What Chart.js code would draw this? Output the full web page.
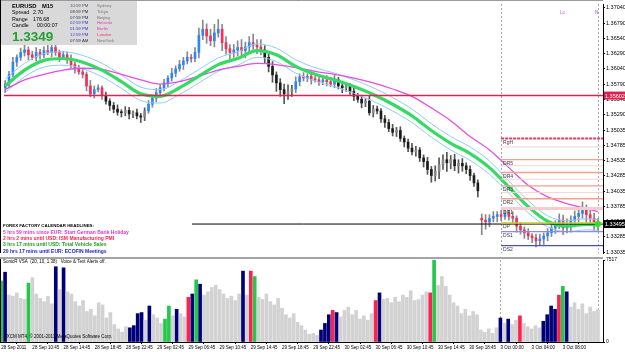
<!DOCTYPE html>
<html>
<head>
<meta charset="utf-8">
<script src="https://cdn.jsdelivr.net/npm/chart.js@4.4.0/dist/chart.umd.min.js"></script>
<style>
  html, body { margin: 0; padding: 0; background: #fff; }
  #wrap { position: relative; width: 625px; height: 352px; overflow: hidden; background: #fff; }
  #price { position: absolute; left: 0; top: 0; }
  #vol { position: absolute; left: 0; top: 257px; }
</style>
</head>
<body>
<div id="wrap">
  <canvas id="price" width="625" height="257"></canvas>
  <canvas id="vol" width="625" height="95"></canvas>
</div>
<script>
Chart.defaults.font.family = "'Liberation Sans', Arial, sans-serif";
const FONT = "'Liberation Sans', Arial, sans-serif";

// ---- EURUSD M15, one entry per candle ----
const closes = [
  1.3579,1.3595,1.3615,1.3623,1.3631,1.3635,1.3627,1.3623,1.3631,1.3627,
  1.3634,1.3631,1.3639,1.3631,1.3624,1.3627,1.3619,1.3611,1.3604,1.3599,
  1.3595,1.3576,1.3563,1.3570,1.3573,1.3560,1.3551,1.3544,1.3538,1.3533,
  1.3532,1.3536,1.3530,1.3532,1.3527,1.3525,1.3535,1.3546,1.3556,1.3565,
  1.3573,1.3581,1.3589,1.3597,1.3604,1.3611,1.3617,1.3623,1.3621,1.3631,
  1.3659,1.3669,1.3658,1.3650,1.3663,1.3669,1.3647,1.3637,1.3631,1.3635,
  1.3639,1.3634,1.3640,1.3647,1.3643,1.3640,1.3635,1.3623,1.3608,1.3594,
  1.3581,1.3570,1.3563,1.3567,1.3571,1.3583,1.3591,1.3589,1.3592,1.3587,
  1.3586,1.3583,1.3586,1.3583,1.3579,1.3586,1.3576,1.3573,1.3576,1.3567,
  1.3559,1.3554,1.3548,1.3551,1.3532,1.3538,1.3535,1.3522,1.3516,1.3506,
  1.3500,1.3503,1.3490,1.3484,1.3474,1.3468,1.3471,1.3458,1.3452,1.3439,
  1.3429,1.3436,1.3447,1.3455,1.3450,1.3455,1.3445,1.3449,1.3445,1.3439,
  1.3429,1.3417,1.3404,1.3356,1.3353,1.3359,1.3362,1.3365,1.3362,1.3367,
  1.3362,1.3359,1.3346,1.3340,1.3335,1.3330,1.3327,1.3322,1.3325,1.3330,
  1.3335,1.3343,1.3349,1.3356,1.3343,1.3346,1.3356,1.3362,1.3367,1.3372,
  1.3365,1.3359,1.3353,1.3349
];
// open = previous close, except where a session starts
const sessionStart = [0, 123];
const sessionOpen = [1.3573, 1.3359];
// wick lengths in pips above / below the body
const wickUp = [
  6,5,8,4,7,10,5,6,8,5, 6,9,5,7,4,6,5,8,4,6, 5,4,9,6,5,3,6,4,5,7, 4,6,5,3,6,4,5,6,4,7,
  5,6,4,8,5,7,6,9,5,8, 12,15,9,11,14,16,8,10,7,9, 11,13,8,10,14,9,12,7,6,8, 5,7,9,11,6,8,5,7,4,6,
  5,6,4,7,5,8,4,6,5,4, 6,5,7,4,9,6,5,4,6,5, 7,5,6,4,5,8,6,4,5,7, 5,9,11,8,12,7,9,6,8,5,
  6,4,5,7,9,6,8,5,7,6, 5,8,4,6,5,7,4,6,8,5, 7,9,6,10,8,12,7,9,11,14, 9,7,8,6
];
const wickDn = [
  8,6,4,7,5,6,8,4,6,7, 5,4,7,5,8,4,6,5,7,4, 6,8,5,7,4,6,5,8,6,5, 7,5,8,6,5,9,6,4,5,6,
  4,5,7,5,6,4,8,5,6,5, 9,7,12,8,10,7,13,9,11,8, 10,8,12,9,7,11,8,10,9,12, 14,11,16,9,8,6,7,5,6,8,
  4,6,5,7,4,6,5,8,6,5, 7,5,8,6,4,7,5,6,8,5, 6,7,5,8,6,5,7,6,9,8, 11,9,12,8,14,10,8,12,9,7,
  8,6,10,24,12,8,6,9,7,5, 6,8,10,7,9,6,8,10,7,9, 8,6,9,7,11,8,10,6,9,8, 12,9,14,11
];
// stretches drawn in the dark candle colour
const darkRanges = [[26, 36], [67, 74], [86, 122]];

// ---- moving averages, sampled at these candle indices ----
const maIdx = [0,5,10,15,20,25,30,35,40,45,50,55,60,65,70,75,80,85,90,95,100,105,110,115,120,125,130,135,140,145,150,153];
const maFast = [1.3576,1.3602,1.3618,1.3621,1.3615,1.3602,1.3583,1.3563,1.3559,1.3573,1.3592,1.3611,1.3621,1.3634,1.3627,1.3608,
                1.3595,1.3586,1.3575,1.3562,1.3546,1.3527,1.3503,1.3482,1.3465,1.3442,1.3410,1.3378,1.3354,1.3346,1.3349,1.3348];
const bandUp = [1.3587,1.3613,1.3629,1.3632,1.3626,1.3613,1.3594,1.3574,1.3570,1.3584,1.3603,1.3622,1.3632,1.3645,1.3638,1.3619,
                1.3606,1.3597,1.3586,1.3573,1.3557,1.3538,1.3514,1.3493,1.3476,1.3453,1.3420,1.3388,1.3363,1.3355,1.3358,1.3357];
const bandDn = [1.3565,1.3591,1.3607,1.3610,1.3604,1.3591,1.3572,1.3552,1.3548,1.3562,1.3581,1.3600,1.3610,1.3623,1.3616,1.3597,
                1.3584,1.3575,1.3564,1.3551,1.3535,1.3516,1.3492,1.3471,1.3454,1.3431,1.3400,1.3368,1.3345,1.3337,1.3340,1.3339];
const maSlow = [1.3570,1.3586,1.3595,1.3602,1.3605,1.3603,1.3595,1.3586,1.3579,1.3583,1.3592,1.3602,1.3608,1.3613,1.3611,1.3606,
                1.3600,1.3595,1.3589,1.3581,1.3571,1.3559,1.3540,1.3519,1.3493,1.3471,1.3442,1.3413,1.3394,1.3383,1.3375,1.3370];

// ---- levels ----
const alertPrice = 1.35602;
const bidPrice = 1.33495;
const pivotStart = 128;
const pivotNames = ['RgH', 'DR5', 'DR4', 'DR3', 'DR2', 'DR1', 'DP', 'DS1', 'DS2'];
const pivotLevels = [1.3490, 1.3455, 1.3434, 1.3412, 1.3391, 1.3375, 1.3351, 1.3337, 1.3314];
const faintLevels = [1.3476, 1.3445, 1.3423, 1.3401];
const separators = [128, 153];

// ---- axes ----
const priceTicks = [1.37040,1.36790,1.36540,1.36290,1.36040,1.35790,1.35540,1.35290,1.35035,
                    1.34785,1.34535,1.34285,1.34035,1.33785,1.33535,1.33285,1.33035];
const timeLabels = ['28 Sep 2011','28 Sep 10:45','28 Sep 14:45','28 Sep 18:45','28 Sep 22:45','29 Sep 02:45',
                    '29 Sep 06:45','29 Sep 10:45','29 Sep 14:45','29 Sep 18:45','29 Sep 22:45','30 Sep 02:45',
                    '30 Sep 06:45','30 Sep 10:45','30 Sep 14:45','30 Sep 18:45','3 Oct 00:00','3 Oct 04:00','3 Oct 08:00'];
const labelEvery = 8;

// ---- SonicR VSA volume ----
const volumes = [
  5600,6400,4300,4200,4500,4000,3900,5400,5900,4400, 4000,3700,4200,3500,6900,4800,6800,4600,4400,3700,
  3300,3800,2800,3000,2400,3600,3400,2200,2700,1600, 1200,900,1400,1300,1500,2600,2700,2000,3300,2500,
  2200,1700,2100,3300,2400,3000,2600,2300,4100,4400, 5700,5300,4300,4600,5000,5200,4800,4400,4000,4200,
  3800,4400,6500,4300,6500,6000,4100,3900,4400,3700, 3400,4000,3100,2500,2200,2600,1800,1500,1100,700,
  800,600,1100,1700,2500,2900,2700,2300,2900,3200, 2500,2900,2100,2400,2000,2600,3800,4500,3900,4000,
  3600,4100,3700,4300,4100,4700,3800,3900,4300,4600, 4500,7517,5200,6000,5100,4300,3600,3300,2600,3000,
  2400,2800,2500,1100,900,1200,800,1300,2200,1700, 2100,1600,2000,2400,1700,1400,1200,1500,1300,1900,
  2500,3300,3000,4300,5100,4600,3200,3600,3000,3500, 2600,3200,2800,3000
];
const volNavy = [1,14,16,33,34,35,36,38,45,49,51,62,82,83,84,86,97,128,130,139,140,141,142,145];
const volGreen = [0,7,42,43,50,65,111,144];
const volRed = [48,64,85,96,110,133,143];
const volScaleMax = 7517;

const headlines = [
  ['5 hrs 59 mins since EUR: Start German Bank Holiday', '#d838d8'],
  ['2 hrs 2 mins until USD: ISM Manufacturing PMI', '#ff1f4f'],
  ['3 hrs 17 mins until USD: Total Vehicle Sales', '#1aa01a'],
  ['20 hrs 17 mins until EUR: ECOFIN Meetings', '#2222c8']
];
const clocks = [
  ['10:59 PM', 'Sydney', '#555566', '#777777'],
  ['08:59 PM', 'Tokyo', '#333355', '#777777'],
  ['07:59 PM', 'Beijing', '#333355', '#777777'],
  ['02:59 PM', 'Helsinki', '#3a3ad0', '#e040b0'],
  ['01:59 PM', 'Berlin', '#3a3ad0', '#e040b0'],
  ['12:59 PM', 'London', '#3a3ad0', '#ff3060'],
  ['07:59 AM', 'NewYork', '#333355', '#777777']
];

// ---- derived candle parts ----
const PIP = 0.0001;
const N = closes.length;
const opens = closes.map((c, i) => {
  const s = sessionStart.indexOf(i);
  return s >= 0 ? sessionOpen[s] : closes[i - 1];
});
const highs = closes.map((c, i) => Math.max(c, opens[i]) + wickUp[i] * PIP);
const lows = closes.map((c, i) => Math.min(c, opens[i]) - wickDn[i] * PIP);
const isDark = i => darkRanges.some(([a, b]) => i >= a && i <= b);
const candleColor = closes.map((c, i) => {
  const up = c >= opens[i];
  if (isDark(i)) return up ? '#8a8a8a' : '#1c1c1c';
  return up ? '#2a86ff' : '#ff2a58';
});
const wickColor = closes.map((c, i) => isDark(i) ? '#555' : '#888');
const volColor = volumes.map((v, i) =>
  volNavy.includes(i) ? '#00007a' : volGreen.includes(i) ? '#22c84a' : volRed.includes(i) ? '#ff2050' : '#d2d2d2');

const X_MIN = -0.3;
const X_MAX = N + 0.3;
const Y_MIN = 1.3302;
const Y_MAX = 1.37104;

const maPts = arr => maIdx.map((x, k) => ({ x, y: arr[k] }));
function maLine(arr, color, width, order) {
  return { type: 'line', data: maPts(arr), borderColor: color, borderWidth: width, pointRadius: 0,
           cubicInterpolationMode: 'monotone', order };
}
function hLine(x0, y, color, width, dash, order) {
  return { type: 'line', data: [{ x: x0, y }, { x: X_MAX, y }], borderColor: color, borderWidth: width,
           borderDash: dash || [], pointRadius: 0, order: order || 1 };
}

function drawSeparators(chart) {
  const { ctx, chartArea, scales: { x } } = chart;
  ctx.save();
  ctx.strokeStyle = '#a8a8a8';
  ctx.lineWidth = 1;
  ctx.setLineDash([2, 2]);
  separators.forEach(idx => {
    const px = Math.round(x.getPixelForValue(idx)) + 0.5;
    ctx.beginPath();
    ctx.moveTo(px, chartArea.top);
    ctx.lineTo(px, chartArea.bottom);
    ctx.stroke();
  });
  ctx.restore();
}

function txt(ctx, s, x, y, font, color, align) {
  ctx.font = font;
  ctx.fillStyle = color;
  ctx.textAlign = align || 'left';
  ctx.textBaseline = 'middle';
  ctx.fillText(s, x, y);
}

function axisTag(chart, value, text, bg) {
  const { ctx, chartArea, scales: { y } } = chart;
  const py = y.getPixelForValue(value);
  ctx.fillStyle = bg;
  ctx.fillRect(chartArea.right + 1, py - 4, 22, 8);
  txt(ctx, text, chartArea.right + 2, py + 0.5, `5.5px ${FONT}`, '#fff');
}

const priceOverlay = {
  id: 'priceOverlay',
  beforeDatasetsDraw: drawSeparators,
  afterDatasetsDraw(chart) {
    const { ctx, scales: { x, y } } = chart;
    ctx.save();
    // pivot labels
    const lx = x.getPixelForValue(pivotStart) + 2;
    pivotNames.forEach((name, k) => {
      txt(ctx, name, lx, y.getPixelForValue(pivotLevels[k]) + 4, `5px ${FONT}`, '#3a3a3a');
    });
    txt(ctx, 'Lo', 560, 13, `4.5px ${FONT}`, '#e050e0');
    txt(ctx, 'N', 595, 13, `4.5px ${FONT}`, '#9a40e0');

    // calendar headlines
    ctx.fillStyle = '#fff';
    ctx.fillRect(1, 220, 191, 36);
    txt(ctx, 'FOREX FACTORY CALENDAR HEADLINES:', 3, 225.5, `bold 4.4px ${FONT}`, '#000');
    headlines.forEach(([s, c], k) => txt(ctx, s, 3, 232.5 + k * 6.3, `bold 5px ${FONT}`, c));

    // info panel
    ctx.fillStyle = '#d9d9d9';
    ctx.fillRect(0, 0, 137, 45);
    txt(ctx, 'EURUSD', 12, 6, `bold 5.8px ${FONT}`, '#000');
    txt(ctx, 'M15', 42, 6, `bold 5.8px ${FONT}`, '#000');
    txt(ctx, 'Spread', 12, 13, `5.3px ${FONT}`, '#000');
    txt(ctx, '2.70', 33, 13, `5.3px ${FONT}`, '#000');
    txt(ctx, 'Range', 12, 19.5, `5.3px ${FONT}`, '#000');
    txt(ctx, '176.68', 33, 19.5, `5.3px ${FONT}`, '#000');
    txt(ctx, 'Candle', 12, 26, `5.3px ${FONT}`, '#000');
    txt(ctx, '00:00:07', 37, 26, `5.3px ${FONT}`, '#000');
    txt(ctx, closes[N - 1].toFixed(4), 12, 37.5, `bold 13.5px ${FONT}`, '#22a030');
    clocks.forEach(([t, city, tc, cc], k) => {
      const ry = 6 + k * 5.75;
      txt(ctx, t, 70, ry, `4.3px ${FONT}`, tc);
      txt(ctx, city, 97, ry, `4.3px ${FONT}`, cc);
    });
    ctx.restore();
  },
  afterDraw(chart) {
    const { ctx, chartArea } = chart;
    ctx.save();
    ctx.strokeStyle = '#9a9a9a';
    ctx.beginPath(); ctx.moveTo(0, 0.5); ctx.lineTo(chartArea.right, 0.5); ctx.stroke();
    ctx.strokeStyle = '#000';
    ctx.beginPath(); ctx.moveTo(0.5, 0); ctx.lineTo(0.5, chartArea.bottom); ctx.stroke();
    axisTag(chart, alertPrice, alertPrice.toFixed(5), '#e0204a');
    axisTag(chart, bidPrice, bidPrice.toFixed(5), '#000');
    ctx.restore();
  }
};

new Chart(document.getElementById('price'), {
  type: 'bar',
  data: {
    datasets: [
      { type: 'bar', data: closes.map((c, i) => ({ x: i, y: [lows[i], highs[i]] })), backgroundColor: wickColor,
        barThickness: 1, grouped: false, order: 9 },
      { type: 'bar', data: closes.map((c, i) => ({ x: i, y: [opens[i], c] })), backgroundColor: candleColor,
        barThickness: 2, minBarLength: 1, grouped: false, order: 8 },
      maLine(maSlow, '#e24fe2', 1.3, 5),
      maLine(bandUp, '#8ecbf5', 1, 5),
      maLine(bandDn, '#8ecbf5', 1, 5),
      maLine(maFast, '#34da62', 3.2, 4),
      hLine(X_MIN, alertPrice, '#e8204e', 1.5, [], 2),
      ...faintLevels.map(v => hLine(pivotStart, v, '#f1d6d2', 1, [], 3)),
      hLine(pivotStart, pivotLevels[0], '#e63c62', 2, [3, 1]),
      hLine(pivotStart, pivotLevels[1], '#f2a090', 1.3),
      hLine(pivotStart, pivotLevels[2], '#f2a090', 1.3),
      hLine(pivotStart, pivotLevels[3], '#f2a090', 1.3),
      hLine(pivotStart, pivotLevels[4], '#f2a090', 1.3),
      hLine(pivotStart, pivotLevels[5], '#f7cccc', 3),
      hLine(pivotStart, pivotLevels[6], '#c8cc30', 1.5),
      hLine(pivotStart, pivotLevels[7], '#8c8ce8', 1.3),
      hLine(pivotStart, pivotLevels[8], '#4c4cd0', 1.3),
      hLine(X_MIN, bidPrice, '#000', 1, [], 0),
      { type: 'line', data: [{ x: N - 1, y: bidPrice }], showLine: false, pointRadius: 3, borderWidth: 0,
        pointBackgroundColor: '#22e822', order: 0 }
    ]
  },
  options: {
    responsive: false,
    animation: false,
    devicePixelRatio: 1,
    layout: { padding: { top: 0, bottom: 1, left: 0, right: 0 } },
    plugins: { legend: { display: false }, tooltip: { enabled: false } },
    scales: {
      x: { type: 'linear', min: X_MIN, max: X_MAX, offset: false, display: false },
      y: {
        position: 'right', min: Y_MIN, max: Y_MAX,
        afterBuildTicks: s => { s.ticks = priceTicks.map(v => ({ value: v })); },
        afterFit: s => { s.width = 22; s.paddingTop = 0; s.paddingBottom = 0; },
        ticks: { autoSkip: false, font: { size: 5.5 }, color: '#000', padding: 1, callback: v => v.toFixed(5) },
        grid: { drawOnChartArea: false, drawTicks: true, tickLength: 2, color: '#000' },
        border: { display: true, color: '#000' }
      }
    }
  },
  plugins: [priceOverlay]
});

const volOverlay = {
  id: 'volOverlay',
  beforeDatasetsDraw: drawSeparators,
  afterDatasetsDraw(chart) {
    const { ctx, chartArea } = chart;
    ctx.save();
    txt(ctx, 'SonicR VSA  (20, 10, 1.38)   Voice & Text Alerts off.', 3, 5, `4.5px ${FONT}`, '#000');
    txt(ctx, 'FXCM MT4, \u00a9 2001-2011 MetaQuotes Software Corp.', 4, 80, `4.5px ${FONT}`, '#000');
    ctx.fillStyle = '#a4a4a4';
    ctx.fillRect(0, 0, chartArea.right, 2);
    ctx.strokeStyle = '#000';
    ctx.beginPath(); ctx.moveTo(0.5, 2); ctx.lineTo(0.5, chartArea.bottom); ctx.stroke();
    ctx.restore();
  }
};

new Chart(document.getElementById('vol'), {
  type: 'bar',
  data: {
    datasets: [{
      data: volumes.map((v, i) => ({ x: i, y: v })),
      backgroundColor: volColor,
      barThickness: 3,
      grouped: false
    }]
  },
  options: {
    responsive: false,
    animation: false,
    devicePixelRatio: 1,
    layout: { padding: { top: 3, bottom: 0, left: 0, right: 0 } },
    plugins: { legend: { display: false }, tooltip: { enabled: false } },
    scales: {
      x: {
        type: 'linear', min: X_MIN, max: X_MAX, offset: false, position: 'bottom',
        afterBuildTicks: s => { s.ticks = timeLabels.map((_, k) => ({ value: k * labelEvery })); },
        afterFit: s => { s.height = 10; s.paddingLeft = 0; s.paddingRight = 0; },
        ticks: { autoSkip: false, maxRotation: 0, minRotation: 0, align: 'start', font: { size: 4.5 }, color: '#000',
                 padding: 1, callback: (v, i) => timeLabels[i] },
        grid: { drawOnChartArea: false, drawTicks: true, tickLength: 2, color: '#000' },
        border: { display: true, color: '#000' }
      },
      y: {
        position: 'right', min: 0, max: volScaleMax,
        afterBuildTicks: s => { s.ticks = [{ value: 0 }, { value: volScaleMax }]; },
        afterFit: s => { s.width = 22; s.paddingTop = 0; s.paddingBottom = 0; },
        ticks: { autoSkip: false, font: { size: 5 }, color: '#000', padding: 1, callback: v => String(v) },
        grid: { drawOnChartArea: false, drawTicks: true, tickLength: 2, color: '#000' },
        border: { display: true, color: '#000' }
      }
    }
  },
  plugins: [volOverlay]
});
</script>
</body>
</html>
